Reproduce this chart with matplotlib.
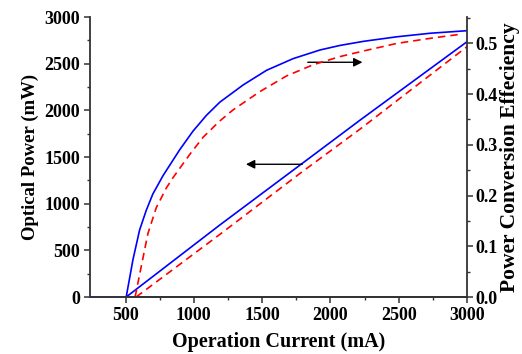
import matplotlib
matplotlib.use("Agg")
import matplotlib.pyplot as plt

# Optical power (left axis, mW)
cur_p_blue = [505, 1190, 1778, 2218, 3000]
pow_blue = [0, 771, 1414, 1896, 2735]
cur_p_red = [578, 1190, 1778, 2218, 3000]
pow_red = [0, 670, 1325, 1800, 2682]
cur_sub = [240, 505]
pow_sub = [0, 0]

# Power conversion efficiency (right axis)
cur_e_blue = [505, 554, 603, 652, 700, 774, 896, 994, 1092, 1190, 1361, 1533,
              1728, 1924, 2071, 2242, 2487, 2732, 3000]
eff_blue = [0.0, 0.073, 0.132, 0.171, 0.203, 0.239, 0.29, 0.327, 0.358, 0.384,
            0.418, 0.447, 0.470, 0.487, 0.496, 0.504, 0.513, 0.520, 0.525]
cur_e_red = [570, 615, 664, 725, 799, 847, 970, 1068, 1190, 1288, 1484, 1680,
             1875, 2071, 2242, 2487, 2732, 2952]
eff_red = [0.0, 0.06, 0.125, 0.176, 0.215, 0.235, 0.281, 0.315, 0.347, 0.369,
           0.405, 0.436, 0.458, 0.474, 0.485, 0.5, 0.51, 0.518]

plt.rcParams['font.family'] = ['Liberation Serif', 'DejaVu Serif']
plt.rcParams['font.weight'] = 'bold'

fig = plt.figure(figsize=(5.22, 3.54), dpi=100)
ax = fig.add_axes([90/522, 1-297/354, (467-90)/522, (297-17)/354])
ax2 = ax.twinx()

blue = '#0000ff'
red = '#ff0000'
dash = (0, (4.5, 3))
ax.plot(cur_sub, pow_sub, color='#4a4aff', lw=1.3, clip_on=False, zorder=5)
ax.plot(cur_p_blue, pow_blue, color=blue, lw=1.2)
ax.plot(cur_p_red, pow_red, color=red, lw=1.2, ls=dash)
ax2.plot(cur_e_blue, eff_blue, color=blue, lw=1.2)
ax2.plot(cur_e_red, eff_red, color=red, lw=1.2, ls=dash)

ax.set_xlim(240, 3000)
ax.set_ylim(0, 3000)
ax2.set_ylim(0, 0.552)

ax.set_xticks([500, 1000, 1500, 2000, 2500, 3000])
ax.set_xticks([750, 1250, 1750, 2250, 2750], minor=True)
ax.set_yticks([0, 500, 1000, 1500, 2000, 2500, 3000])
ax.set_yticks([250, 750, 1250, 1750, 2250, 2750], minor=True)
ax2.set_yticks([0.0, 0.1, 0.2, 0.3, 0.4, 0.5])
ax2.set_yticklabels(['0.0', '0.1', '0.2', '0.3', '0.4', '0.5'])
ax2.set_yticks([0.05, 0.15, 0.25, 0.35, 0.45, 0.55], minor=True)

for a in (ax, ax2):
    a.spines['top'].set_visible(False)
    for s in a.spines.values():
        s.set_linewidth(1.3)
        s.set_color('#333333')
    a.tick_params(which='major', length=4, width=1.1, color='#333333',
                  labelsize=13, pad=3)
    a.tick_params(which='minor', length=2.5, width=1.0, color='#333333')
ax2.spines['left'].set_visible(False)
ax.spines['right'].set_visible(False)
ax2.tick_params(axis='y', pad=2)

ax.set_xlabel('Operation Current (mA)', fontsize=14.5, fontweight='bold', labelpad=6)
ax.set_ylabel('Optical Power (mW)', fontsize=13.5, fontweight='bold', labelpad=4)
ax2.set_ylabel('Power Conversion Effeciency', fontsize=15.5, fontweight='bold', labelpad=2)

ax.annotate('', xy=(1361, 1422), xytext=(1814, 1422),
            arrowprops=dict(arrowstyle='-|>', color='black', lw=1.0, mutation_scale=13))
ax.annotate('', xy=(2255, 2515), xytext=(1814, 2515),
            arrowprops=dict(arrowstyle='-|>', color='black', lw=1.0, mutation_scale=13))

fig.savefig('out.png', dpi=100)
